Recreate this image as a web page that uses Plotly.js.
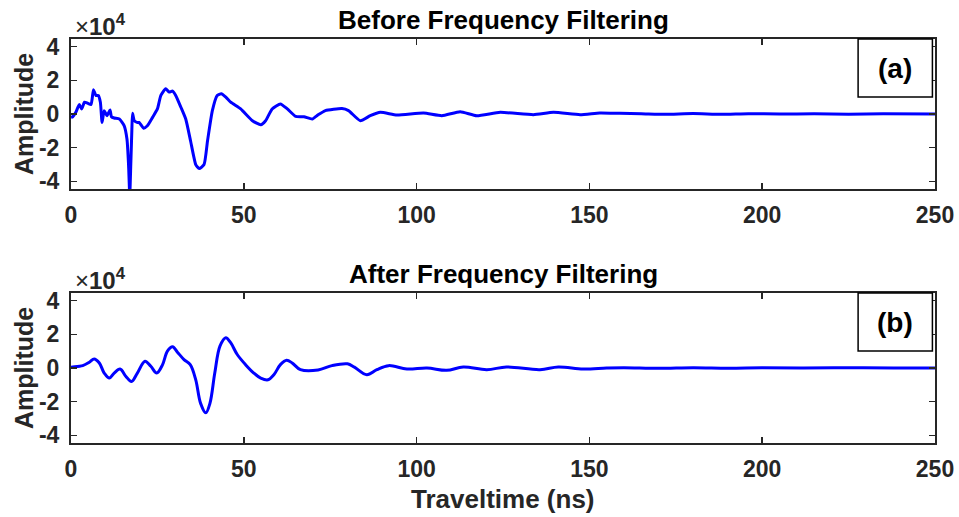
<!DOCTYPE html>
<html>
<head>
<meta charset="utf-8">
<script src="https://cdn.plot.ly/plotly-3.0.1.min.js"></script>
<style>html,body{margin:0;padding:0;background:#fff;}#chart{width:959px;height:517px;}</style>
</head>
<body>
<div id="chart"></div>
<script>
// Amplitudes in units of 10^4
const timeBefore = [0,0.5,1.4,2.4,3.1,3.9,4.8,5.8,6.5,7.2,7.9,8.5,9.0,9.6,10.4,11.3,11.7,12.5,14,15.4,16.2,16.65,17.0,17.3,17.6,17.8,18.3,19.1,19.7,21,22.1,23.6,25,26,27.4,28.4,29.4,30.3,31.8,33.2,34.6,36.1,37.1,38.5,39.5,40.9,42.3,43.5,44.8,46.2,49.1,52.5,54.9,56.3,58.2,60.6,62.6,65,67.4,69.8,71.5,73.6,78.4,80.3,83.7,86.6,89.5,94.3,102,107.3,112.6,117.4,124.2,133.8,139.6,147.3,153,158.8,165,172,180,188,196,205,215,225,235,250];
const ampBefore = [-0.2,-0.16,0.1,0.56,0.3,0.7,0.64,0.56,1.44,1.1,1.1,0.7,-0.5,0.2,-0.1,0.24,-0.16,-0.24,-0.3,-0.7,-1.5,-3.0,-4.8,-3.0,-1.0,0.04,-0.4,-0.5,-0.5,-0.84,-0.7,-0.2,0.3,1.1,1.5,1.3,1.36,1.1,0.4,-0.3,-1.6,-3.0,-3.24,-3.0,-1.6,0.2,1.1,1.2,1.0,0.7,0.3,-0.4,-0.64,-0.4,0.3,0.6,0.3,-0.14,-0.16,-0.3,-0.05,0.2,0.32,0.2,-0.4,-0.1,0.1,-0.06,0.06,-0.1,0.14,-0.1,0.1,-0.04,0.1,-0.04,0.06,0.04,0.02,-0.02,0.03,-0.02,0.02,0.0,0.01,-0.01,0.01,0.0];

const timeAfter = [0,0.5,3.4,5.3,6.7,8.2,9.6,11.1,12.5,14.2,15.9,17.5,19.2,21.4,23.1,24.8,26.5,27.9,29.4,30.8,32.7,34.5,36.1,37.5,39,40.2,41.6,43.1,44.8,46.2,48.1,50.5,52.9,54.9,57,58.7,60.6,62.4,64,66.4,71.5,75.5,80,82,85.6,88.5,91.9,97.2,103,108.7,113.5,120.3,126,135.7,141,148.2,155,160,170,180,190,200,212,225,238,250];
const ampAfter = [0.05,0.06,0.14,0.34,0.54,0.3,-0.3,-0.6,-0.3,-0.06,-0.5,-0.8,-0.3,0.4,0.1,-0.3,0.2,1.0,1.26,0.94,0.5,0.2,-0.7,-2.1,-2.66,-2.1,-0.3,1.3,1.8,1.5,0.8,0.2,-0.3,-0.6,-0.7,-0.4,0.2,0.46,0.3,-0.1,-0.12,0.14,0.25,0.05,-0.4,-0.1,0.14,-0.06,0.0,-0.14,0.06,-0.1,0.06,-0.1,0.06,-0.06,0.0,0.02,-0.02,0.02,-0.01,0.01,0.0,0.01,0.0,0.0];

const xTicks = [0,50,100,150,200,250];
const yTicks = [-4,-2,0,2,4];
const titles = ["Before Frequency Filtering","After Frequency Filtering"];
const panelLabels = ["(a)","(b)"];

const FONT = "Liberation Sans, Arial, sans-serif";
const AX = '#262626';

const traces = [
  {x: timeBefore, y: ampBefore, xaxis:'x', yaxis:'y', mode:'lines', line:{color:'#0000FF', width:3, shape:'spline', smoothing:0.5}, hoverinfo:'skip'},
  {x: timeAfter, y: ampAfter, xaxis:'x2', yaxis:'y2', mode:'lines', line:{color:'#0000FF', width:3, shape:'spline', smoothing:1}, hoverinfo:'skip'}
];

function xax(anchor){
  return {anchor:anchor, domain:[71/959, 935/959], range:[0,250], tickvals:xTicks, ticktext:xTicks.map(String),
    ticks:'inside', ticklen:6, tickwidth:1.5, tickcolor:AX, showline:true, linewidth:2, linecolor:AX, mirror:'ticks',
    showgrid:false, zeroline:false, tickfont:{family:FONT, size:23, color:AX, weight:'bold'}, ticklabelstandoff:4};
}
function yax(anchor, dom){
  return {anchor:anchor, domain:dom, range:[-4.45,4.45], tickvals:yTicks, ticktext:yTicks.map(String),
    ticks:'inside', ticklen:6, tickwidth:1.5, tickcolor:AX, showline:true, linewidth:2, linecolor:AX, mirror:'ticks',
    showgrid:false, zeroline:false, tickfont:{family:FONT, size:23, color:AX, weight:'bold'}, ticklabelstandoff:5};
}

const annotations = [];
const shapes = [];
const axesRefs = [['x','y',39],['x2','y2',293]];
axesRefs.forEach((a,i)=>{
  annotations.push({xref:a[0]+' domain', yref:'paper', x:0.5, y:1-(a[2]-19)/517, text:'<b>'+titles[i]+'</b>', showarrow:false,
    font:{family:FONT, size:26, color:'#000'}, xanchor:'center', yanchor:'middle'});
  annotations.push({xref:'paper', yref:'paper', x:73/959, y:1-(a[2]-14)/517, text:'×<b>10<sup>4</sup></b>', showarrow:false,
    font:{family:FONT, size:24, color:AX}, xanchor:'left', yanchor:'middle'});
  annotations.push({xref:'paper', yref:a[1]+' domain', x:24/959, y:0.5, text:'<b>Amplitude</b>', textangle:-90, showarrow:false,
    font:{family:FONT, size:25, color:AX}, xanchor:'center', yanchor:'middle'});
  shapes.push({type:'rect', xref:a[0]+' domain', yref:a[1]+' domain', x0:0.911, x1:0.997, y0:0.613, y1:1.0,
    line:{color:'#000', width:1.5}, fillcolor:'#fff'});
  annotations.push({xref:a[0]+' domain', yref:a[1]+' domain', x:0.954, y:0.806, text:'<b>'+panelLabels[i]+'</b>', showarrow:false,
    font:{family:FONT, size:28, color:'#000'}, xanchor:'center', yanchor:'middle'});
});
annotations.push({xref:'x2 domain', yref:'paper', x:0.5, y:1-499/517, text:'<b>Traveltime (ns)</b>', showarrow:false,
  font:{family:FONT, size:26, color:AX}, xanchor:'center', yanchor:'middle'});

const layout = {
  width:959, height:517, margin:{l:0,r:0,t:0,b:0}, paper_bgcolor:'#fff', plot_bgcolor:'#fff', showlegend:false,
  xaxis: xax('y'), yaxis: yax('x', [328/517, 478/517]),
  xaxis2: xax('y2'), yaxis2: yax('x2', [74/517, 224/517]),
  annotations: annotations, shapes: shapes
};
Plotly.newPlot('chart', traces, layout, {displayModeBar:false, staticPlot:true});
</script>
</body>
</html>
